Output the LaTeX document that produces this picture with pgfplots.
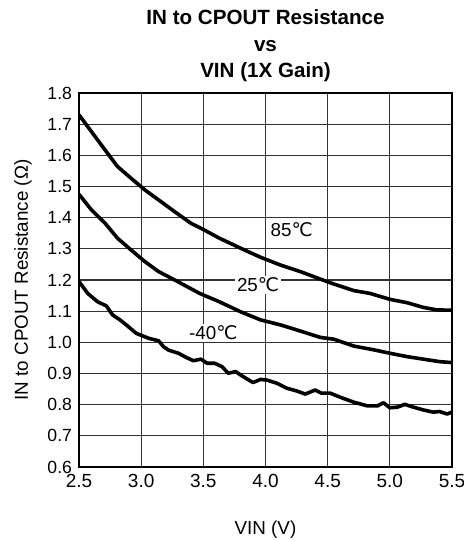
\documentclass[border=0pt]{standalone}
\usepackage{pgfplots}
\pgfplotsset{compat=1.18}
\usepackage{fontspec}
\setmainfont{Liberation Sans}
\newfontfamily\symfont{DejaVu Sans}
\newcommand{\degC}{{\symfont ℃}}
\begin{document}
\begin{tikzpicture}
\path[use as bounding box] (-39.5pt,-36.5pt) rectangle (192.5pt,233.5pt);
\begin{axis}[
  width=186.5pt, height=187pt, scale only axis,
  xmin=2.5, xmax=5.5, ymin=0.6, ymax=1.8,
  xtick={2.5,3,...,5.5}, ytick={0.6,0.7,...,1.8},
  grid=major, major grid style={black!80, line width=0.65pt},
  axis line style={line width=1.2pt},
  major tick length=0pt,
  /pgf/number format/assume math mode=true,
  xticklabel style={font=\fontsize{9.5}{11}\selectfont, /pgf/number format/.cd, fixed, fixed zerofill, precision=1},
  yticklabel style={font=\fontsize{8.8}{11}\selectfont, /pgf/number format/.cd, fixed, fixed zerofill, precision=1},
  label style={font=\fontsize{9.4}{11}\selectfont},
  xlabel={VIN (V)},
  ylabel={IN to CPOUT Resistance (Ω)},
  xlabel style={at={(axis description cs:0.5,0)}, anchor=base, yshift=-33.5pt},
  ylabel style={at={(axis description cs:0,0.5)}, anchor=center, yshift=28pt},
  title={IN to CPOUT Resistance\\vs\\VIN (1X Gain)},
  title style={font=\fontsize{10.3}{13.3}\selectfont\bfseries, align=center, inner sep=0pt, anchor=south, at={(axis description cs:0.5,1)}, yshift=-0.8pt},
  clip=true,
]
\addplot[black, line width=1.8pt, line join=round, no marks] coordinates {(2.50,1.730)(2.60,1.676)(2.71,1.617)(2.81,1.564)(2.92,1.526)(3.03,1.489)(3.14,1.457)(3.27,1.419)(3.40,1.382)(3.50,1.362)(3.63,1.334)(3.80,1.302)(3.96,1.273)(4.12,1.248)(4.28,1.227)(4.44,1.203)(4.55,1.187)(4.71,1.166)(4.84,1.157)(5.00,1.138)(5.14,1.127)(5.27,1.112)(5.38,1.104)(5.50,1.103)};
\addplot[black, line width=1.8pt, line join=round, no marks] coordinates {(2.50,1.475)(2.60,1.425)(2.71,1.382)(2.81,1.334)(2.92,1.296)(3.03,1.259)(3.14,1.227)(3.27,1.200)(3.47,1.157)(3.63,1.130)(3.80,1.098)(3.96,1.072)(4.12,1.056)(4.25,1.040)(4.44,1.016)(4.55,1.010)(4.71,0.988)(4.87,0.976)(5.00,0.965)(5.14,0.954)(5.27,0.946)(5.40,0.938)(5.50,0.935)};
\addplot[black, line width=1.8pt, line join=round, no marks] coordinates {(2.50,1.195)(2.57,1.157)(2.65,1.130)(2.72,1.117)(2.77,1.088)(2.83,1.072)(2.88,1.056)(2.96,1.029)(3.06,1.013)(3.14,1.005)(3.18,0.986)(3.22,0.975)(3.30,0.965)(3.36,0.952)(3.42,0.941)(3.48,0.946)(3.53,0.933)(3.59,0.933)(3.65,0.922)(3.70,0.901)(3.76,0.906)(3.82,0.890)(3.90,0.871)(3.96,0.881)(4.01,0.879)(4.09,0.869)(4.17,0.853)(4.25,0.844)(4.32,0.834)(4.40,0.847)(4.45,0.837)(4.52,0.837)(4.60,0.824)(4.71,0.808)(4.82,0.796)(4.90,0.796)(4.95,0.806)(5.00,0.790)(5.06,0.792)(5.12,0.801)(5.19,0.792)(5.27,0.783)(5.35,0.776)(5.40,0.778)(5.46,0.770)(5.50,0.776)};
\node[font=\fontsize{9.4}{11}\selectfont, inner sep=1pt] at (axis cs:4.21,1.36) {85\degC};
\node[font=\fontsize{9.4}{11}\selectfont, fill=white, inner sep=1pt] at (axis cs:3.94,1.184) {25\degC};
\node[font=\fontsize{9.4}{11}\selectfont, fill=white, inner sep=1pt] at (axis cs:3.58,1.03) {-40\degC};
\end{axis}
\end{tikzpicture}
\end{document}
